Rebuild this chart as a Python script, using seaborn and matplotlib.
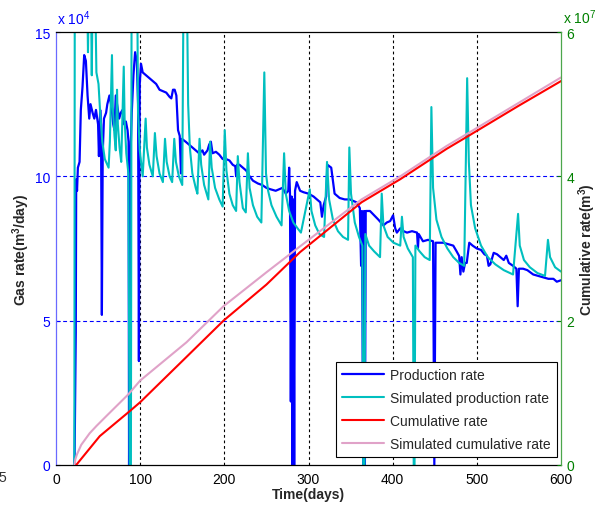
import matplotlib
matplotlib.use("Agg")
import matplotlib.pyplot as plt
import seaborn as sns

# values
# gas rates in 10^4 m3/day, cumulative volumes in 10^7 m3
prod_days = [22.0, 23.5, 24.0, 25.0, 26.0, 28.0, 29.5, 31.5, 33.5, 35.5, 37.5, 39.5, 41.0, 43.5,
             45.5, 47.5, 50.0, 51.0, 52.5, 53.5, 54.5, 55.5, 57.0, 59.5, 61.0, 63.5, 66.0, 68.0,
             69.5, 71.0, 73.0, 75.0, 77.0, 79.0, 81.0, 83.0, 85.0, 86.2, 86.8, 87.5, 88.3, 90.0,
             92.0, 94.0, 96.0, 97.5, 98.5, 99.5, 101.0, 103.0, 107.0, 111.0, 115.0, 119.0, 123.0,
             127.0, 131.0, 135.0, 137.0, 139.0, 141.0, 143.0, 145.0, 147.0, 148.5, 149.5, 154.0,
             158.0, 162.0, 166.0, 170.0, 174.0, 176.0, 180.0, 182.0, 184.0, 186.0, 190.0, 194.0,
             198.0, 202.0, 206.0, 210.0, 213.0, 214.0, 215.0, 218.0, 222.0, 226.0, 230.0, 234.0,
             240.0, 245.0, 250.0, 255.0, 261.0, 265.0, 269.0, 273.0, 276.0, 277.0, 278.0, 279.0,
             280.0, 281.0, 282.0, 283.0, 284.0, 286.0, 290.0, 294.0, 300.0, 306.0, 310.0, 314.0,
             316.0, 318.0, 321.0, 322.5, 327.0, 331.0, 337.0, 343.0, 349.0, 353.0, 357.0, 361.0,
             362.5, 363.5, 365.0, 366.0, 367.0, 368.0, 373.0, 378.0, 383.0, 389.0, 393.0, 397.0,
             400.5, 403.0, 405.0, 409.0, 413.0, 417.0, 423.0, 429.0, 430.0, 431.0, 436.0, 442.0,
             448.0, 449.5, 451.0, 455.0, 460.0, 466.0, 472.0, 476.0, 479.0, 480.5, 482.0, 484.0,
             486.0, 488.0, 491.0, 495.0, 500.0, 505.0, 509.0, 512.0, 514.0, 516.0, 520.0, 524.0,
             528.0, 532.0, 535.0, 538.0, 543.0, 547.0, 548.5, 550.0, 555.0, 560.0, 567.0, 573.0,
             579.0, 585.0, 591.0, 595.0, 600.0]
prod_rate = [0.0, 4.6, 9.9, 9.5, 10.3, 10.5, 12.3, 13.1, 14.2, 14.0, 12.8, 12.0, 12.5, 12.2,
             12.0, 12.3, 11.8, 10.7, 12.3, 11.8, 5.2, 10.8, 12.0, 12.2, 12.5, 12.8, 12.4, 11.8,
             11.6, 12.8, 12.4, 12.0, 12.2, 12.3, 11.8, 11.9, 11.6, 11.2, 0.0, 5.3, 10.5, 12.2,
             13.5, 14.3, 14.0, 12.5, 3.6, 13.2, 13.9, 13.6, 13.5, 13.4, 13.3, 13.2, 13.0,
             12.95, 12.9, 12.75, 12.7, 13.0, 13.0, 12.8, 11.6, 11.4, 10.1, 11.3, 11.2,
             11.1, 11.0, 10.9, 10.8, 10.9, 10.75, 10.9, 11.1, 11.2, 10.8, 10.85, 10.75,
             10.6, 10.6, 10.55, 10.4, 10.35, 10.0, 10.4, 10.4, 10.3, 10.2, 10.0, 9.85,
             9.75, 9.7, 9.6, 9.55, 9.5, 9.55, 9.6, 9.4, 9.5, 10.3, 9.4, 2.2,
             9.3, 0.0, 9.2, 0.0, 9.5, 9.8, 9.5, 9.45, 9.4, 9.3, 9.2, 9.1,
             8.6, 9.0, 9.3, 10.4, 10.3, 9.4, 9.25, 9.2, 9.2, 9.15, 9.1, 8.9,
             6.9, 8.8, 0.0, 8.8, 0.0, 8.8, 8.8, 8.65, 8.5, 8.3, 8.4, 8.45,
             8.65, 8.2, 8.05, 8.2, 8.1, 8.05, 8.1, 8.05, 7.5, 8.0, 7.75, 7.8,
             7.75, 0.0, 7.7, 7.7, 7.7, 7.65, 7.6, 7.4, 7.24, 6.6, 7.2, 6.7,
             7.0, 7.0, 7.7, 7.6, 7.5, 7.45, 7.3, 7.25, 6.9, 6.95, 7.35, 7.3,
             7.2, 7.1, 7.25, 7.0, 6.9, 6.8, 5.5, 6.8, 6.8, 6.75, 6.6, 6.55,
             6.5, 6.45, 6.45, 6.35, 6.4]

sim_days = [21.8, 22.3, 37.0, 38.0, 39.0, 41.5, 42.5, 43.5, 46.5, 48.0, 50.5, 52.5, 55.0, 58.0,
            62.5, 64.0, 66.5, 67.5, 69.5, 71.0, 72.5, 73.5, 75.5, 77.5, 80.5, 81.5, 83.5, 86.0,
            87.5, 89.0, 89.8, 96.5, 97.5, 99.5, 103.0, 106.5, 108.0, 111.0, 115.0, 117.5, 119.5,
            123.0, 127.0, 129.5, 131.5, 135.0, 138.0, 140.5, 142.5, 146.0, 150.0, 151.5, 155.5,
            157.0, 159.0, 162.0, 166.0, 168.0, 170.5, 172.5, 176.0, 181.0, 183.0, 185.0, 189.0,
            194.0, 198.0, 200.5, 202.5, 206.0, 210.0, 214.0, 216.0, 218.0, 222.0, 225.5, 228.0,
            230.0, 234.0, 239.0, 244.0, 247.5, 249.5, 252.0, 256.0, 262.0, 268.0, 271.0, 273.0,
            277.0, 282.0, 287.0, 291.0, 301.5, 303.5, 308.0, 313.0, 318.5, 322.0, 324.5, 329.0,
            335.0, 341.0, 347.0, 348.5, 350.5, 355.0, 360.0, 364.0, 365.0, 366.5, 367.5, 372.0,
            378.0, 385.0, 387.0, 389.0, 394.0, 401.0, 409.0, 411.0, 413.0, 418.0, 424.0, 425.0,
            426.0, 427.0, 432.0, 438.0, 444.0, 446.0, 448.0, 452.0, 458.0, 465.0, 472.0, 479.0,
            485.0, 488.5, 490.5, 493.0, 498.0, 505.0, 513.0, 522.0, 532.0, 543.0, 549.0, 551.0,
            556.0, 563.0, 572.0, 581.0, 584.5, 587.0, 593.0, 600.0]
sim_rate = [0.0, 16.5, 16.5, 14.3, 16.5, 16.5, 13.5, 16.5, 16.5, 13.6, 13.2, 12.2, 11.2, 10.6,
            10.3, 11.2, 14.2, 12.4, 11.4, 10.9, 13.0, 11.8, 11.0, 10.5, 13.8, 12.0, 10.8, 10.1,
            0.0, 0.0, 16.5, 16.5, 12.2, 10.9, 10.0, 12.0, 11.0, 10.4, 10.0, 11.5, 10.7,
            10.1, 9.8, 11.3, 10.5, 10.0, 9.8, 11.3, 10.5, 10.0, 9.7, 16.5, 16.5,
            12.5, 11.0, 10.1, 9.6, 9.4, 11.3, 10.4, 9.7, 9.2, 11.2, 10.3, 9.6,
            9.2, 8.95, 11.6, 10.2, 9.4, 9.0, 8.8, 10.7, 9.8, 8.9, 8.75, 10.8,
            9.6, 9.0, 8.6, 8.4, 13.6, 10.1, 9.5, 9.0, 8.6, 8.3, 10.8, 9.4,
            8.8, 8.4, 8.2, 8.05, 9.55, 8.8, 8.3, 8.0, 7.9, 10.5, 9.2, 8.5,
            8.1, 7.9, 7.8, 11.0, 9.4, 8.4, 7.9, 7.6, 0.0, 0.0, 8.0, 7.6,
            7.4, 7.2, 9.4, 8.3, 7.9, 7.7, 7.6, 8.6, 7.9, 7.5, 7.2, 0.0,
            0.0, 7.6, 7.4, 7.2, 7.1, 12.4, 9.6, 8.5, 7.9, 7.5, 7.2, 7.0,
            6.9, 13.4, 10.5, 9.0, 8.2, 7.6, 7.2, 6.95, 6.75, 6.6, 8.7, 7.6,
            7.1, 6.85, 6.65, 6.55, 7.8, 7.2, 6.85, 6.7]

cum_days = [24, 52, 88, 100, 150, 199, 250, 290, 363, 409, 464, 490, 550, 600]
cum_vol = [0.0, 0.40, 0.75, 0.87, 1.44, 2.00, 2.50, 2.95, 3.64, 3.96, 4.38, 4.56, 4.98, 5.32]

simcum_days = [22, 23, 25, 30, 40, 48, 60, 86, 100, 155, 199, 250, 290, 363, 409, 464, 490, 550, 600]
simcum_vol = [0.0, 0.08, 0.15, 0.28, 0.44, 0.54, 0.68, 0.98, 1.17, 1.70, 2.20, 2.67, 3.03, 3.68,
              4.00, 4.42, 4.60, 5.02, 5.37]

BLUE = "#0000FF"
CYAN = "#00BFBF"
RED = "#FF0000"
PINK = "#E0A2C8"
GREEN = "#008000"

sns.set_style("white")
plt.rcParams["font.family"] = ["Liberation Sans", "DejaVu Sans"]
plt.rcParams["mathtext.fontset"] = "custom"
plt.rcParams["mathtext.rm"] = "Liberation Sans"
plt.rcParams["mathtext.bf"] = "Liberation Sans:bold"

fig = plt.figure(figsize=(5.98, 5.06), dpi=100)
ax1 = fig.add_axes([56 / 598, 40 / 506, 505 / 598, 433 / 506])
ax2 = ax1.twinx()

# rates on the left axis, cumulative on the right axis
sns.lineplot(x=prod_days, y=prod_rate, ax=ax1, color=BLUE, lw=1.6, estimator=None,
             sort=False, legend=False, label="Production rate")
sns.lineplot(x=sim_days, y=sim_rate, ax=ax1, color=CYAN, lw=1.5, estimator=None,
             sort=False, legend=False, label="Simulated production rate")
sns.lineplot(x=simcum_days, y=simcum_vol, ax=ax2, color=PINK, lw=1.5, estimator=None,
             sort=False, legend=False, label="Simulated cumulative rate")
sns.lineplot(x=cum_days, y=cum_vol, ax=ax2, color=RED, lw=1.5, estimator=None,
             sort=False, legend=False, label="Cumulative rate")

ax1.set_xlim(0, 600)
ax1.set_ylim(0, 15)
ax2.set_ylim(0, 6)
ax1.set_xticks(range(0, 601, 100))
ax1.set_yticks([0, 5, 10, 15])
ax2.set_yticks([0, 2, 4, 6])

ax1.tick_params(axis="x", direction="in", length=3, width=0.8, colors="black", labelsize=10, pad=5)
ax1.tick_params(axis="y", direction="in", length=3, width=0.8, color=BLUE, labelcolor=BLUE,
                labelsize=10, pad=4)
ax2.tick_params(axis="y", direction="in", length=3, width=0.8, color=GREEN, labelcolor=GREEN,
                labelsize=10, pad=4)

# grid: black dashed verticals, blue dashed horizontals
ax1.grid(True, axis="x", color="black", ls=(0, (2.5, 2.5)), lw=0.8)
ax1.grid(True, axis="y", color=BLUE, ls=(0, (3.5, 2.5)), lw=0.8)
for gl in [ax1.get_xgridlines()[0], ax1.get_xgridlines()[-1],
           ax1.get_ygridlines()[0], ax1.get_ygridlines()[-1]]:
    gl.set_visible(False)

ax1.spines["left"].set_color("#6A6AFF")
ax1.spines["top"].set_color("black")
ax1.spines["bottom"].set_color("black")
ax1.spines["right"].set_visible(False)
for s in ["left", "top", "bottom"]:
    ax2.spines[s].set_visible(False)
ax2.spines["right"].set_color("#4CA64C")
for s in ax1.spines.values():
    s.set_linewidth(0.9)
ax2.spines["right"].set_linewidth(0.9)

ax1.set_xlabel("Time(days)", fontsize=10, fontweight="bold", labelpad=1)
ax1.set_ylabel(r"Gas rate(m$^{\mathbf{3}}$/day)", fontsize=10, fontweight="bold")
ax1.yaxis.set_label_coords(-0.047, 0.5)
ax2.set_ylabel(r"Cumulative rate(m$^{\mathbf{3}}$)", fontsize=10, fontweight="bold", rotation=90)
ax2.yaxis.set_label_coords(1.03, 0.5)

ax1.text(0.002, 1.018, r"x 10$^{4}$", transform=ax1.transAxes, color=BLUE, fontsize=10,
         ha="left", va="baseline")
ax2.text(1.004, 1.02, r"x 10$^{7}$", transform=ax2.transAxes, color=GREEN, fontsize=10,
         ha="left", va="baseline")
fig.text(6 / 598, 1 - 478 / 506, "5", color="#333333", fontsize=10, ha="right", va="center")

# one legend for both axes
h1, l1 = ax1.get_legend_handles_labels()
h2, l2 = ax2.get_legend_handles_labels()
lookup = dict(zip(l1 + l2, h1 + h2))
order = ["Production rate", "Simulated production rate", "Cumulative rate", "Simulated cumulative rate"]
leg = ax2.legend([lookup[k] for k in order], order, loc="lower right",
                 bbox_to_anchor=(0.992, 0.018), borderaxespad=0, fontsize=10,
                 fancybox=False, framealpha=1, edgecolor="black", handlelength=3.0,
                 handletextpad=0.45, borderpad=0.45, labelspacing=0.65)
leg.get_frame().set_linewidth(0.8)

fig.savefig("out.png", dpi=100)
